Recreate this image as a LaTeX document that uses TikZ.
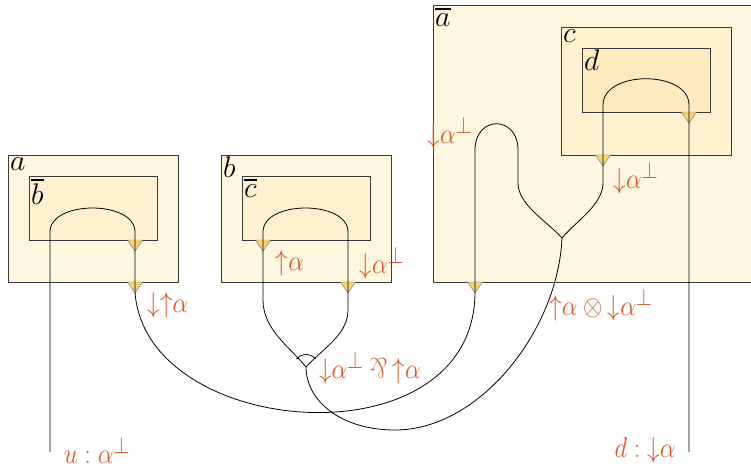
\documentclass[tikz,border=0pt]{standalone}
\usepackage{amssymb}
\usepackage{graphicx}
\definecolor{labc}{HTML}{D9582B}
\definecolor{lvone}{HTML}{FFF6E0}
\definecolor{lvtwo}{HTML}{FFF0CF}
\definecolor{lvthree}{HTML}{FFEABF}
\definecolor{trifc}{HTML}{F7D47A}
\definecolor{bordc}{HTML}{3A3A3A}
\newcommand{\parrsym}{\mathbin{\rotatebox[origin=c]{180}{$\&$}}}
\newcommand{\dn}{\mathord{\downarrow}}
\newcommand{\upa}{\mathord{\uparrow}}
\newcommand{\lbl}[1]{\scalebox{1.0}[1.15]{$#1$}}
\newcommand{\blbl}[1]{\scalebox{1.2}{$#1$}}
\newcommand{\ovl}[1]{\overline{#1}}
\tikzset{
  box/.style={draw=bordc, line width=0.9pt, inner sep=0pt, outer sep=0pt, anchor=north west, rectangle},
  boxlab/.style={inner sep=2pt, anchor=north west, font=\Huge},
  lab/.style={text=labc, inner sep=0pt, font=\Huge},
  wire/.style={line width=0.8pt, black},
  tri/.pic={\draw[fill=trifc, draw=bordc!75, line width=0.4pt] (-7.5,0) -- (7.5,0) -- (0,11) -- cycle;}
}
\begin{document}
\begin{tikzpicture}[x=1pt,y=-1pt]
\useasboundingbox (0,0) rectangle (751,466);
% boxes
\node[box, fill=lvone, minimum width=170pt, minimum height=127pt] (A) at (8,155) {};
\node[box, fill=lvtwo, minimum width=128pt, minimum height=64pt] (Bb) at (29,176) {};
\node[box, fill=lvone, minimum width=170pt, minimum height=127pt] (B) at (221,155) {};
\node[box, fill=lvtwo, minimum width=128pt, minimum height=64pt] (Cb) at (242,176) {};
\node[box, fill=lvone, minimum width=330pt, minimum height=277pt] (Ab) at (433,5) {};
\node[box, fill=lvtwo, minimum width=170pt, minimum height=128pt] (C) at (561,27) {};
\node[box, fill=lvthree, minimum width=128pt, minimum height=64pt] (D) at (582,48) {};
% box labels
\node[boxlab] (la) at (A.north west) {\blbl{a}};
\node[boxlab] (lbb) at (Bb.north west) {\blbl{\ovl{b}}};
\node[boxlab] (lb) at (B.north west) {\blbl{b}};
\node[boxlab] (lcb) at (Cb.north west) {\blbl{\ovl{c}}};
\node[boxlab] (lab) at (Ab.north west) {\blbl{\ovl{a}}};
\node[boxlab] (lc) at (C.north west) {\blbl{c}};
\node[boxlab] (ld) at (D.north west) {\blbl{d}};
% triangles
\pic at (135,240) {tri};
\pic at (135,282) {tri};
\pic at (263,240) {tri};
\pic at (348,282) {tri};
\pic at (475,282) {tri};
\pic at (603,155) {tri};
\pic at (689,112) {tri};
% key points
\coordinate (u) at (50,452);
\coordinate (dE) at (689,452);
\coordinate (J) at (306,367);
\coordinate (F) at (562,238);
% wires
\draw[wire] (u) -- (50,232) .. controls (50,200) and (135,200) .. (135,232) -- (135,292)
  .. controls (145,440) and (475,465) .. (475,292) -- (475,150)
  .. controls (475,115) and (518,115) .. (518,150) -- (518,183)
  .. controls (518,205) and (548,222) .. (F);
\draw[wire] (J) .. controls (291,348) and (263,330) .. (263,300) -- (263,232)
  .. controls (263,200) and (348,200) .. (348,232) -- (348,310)
  .. controls (348,335) and (321,350) .. (J);
\draw[wire] (F) .. controls (558,330) and (480,430) .. (395,430)
  .. controls (340,430) and (306,400) .. (J);
\draw[wire] (F) .. controls (575,222) and (603,205) .. (603,183) -- (603,105)
  .. controls (603,70) and (689,70) .. (689,105) -- (dE);
\draw[wire] (J) ++(-40:12.5) arc[start angle=-40, end angle=-140, radius=12.5];
% labels
\node[lab] (l1) at (168,305) {\lbl{\dn\upa\alpha}};
\node[lab] (l2) at (290,263) {\lbl{\upa\alpha}};
\node[lab] (l3) at (382,263) {\lbl{\dn\alpha^{\perp}}};
\node[lab] (l4) at (370,368) {\lbl{\dn\alpha^{\perp}\parrsym\upa\alpha}};
\node[lab] (l5) at (450,133) {\lbl{\dn\alpha^{\perp}}};
\node[lab] (l6) at (636,178) {\lbl{\dn\alpha^{\perp}}};
\node[lab] (l7) at (601,305) {\lbl{\upa\alpha\otimes\dn\alpha^{\perp}}};
\node[lab] (l8) at (97,450) {\lbl{u:\alpha^{\perp}}};
\node[lab] (l9) at (645,450) {\lbl{d:\dn\alpha}};
\end{tikzpicture}
\end{document}
